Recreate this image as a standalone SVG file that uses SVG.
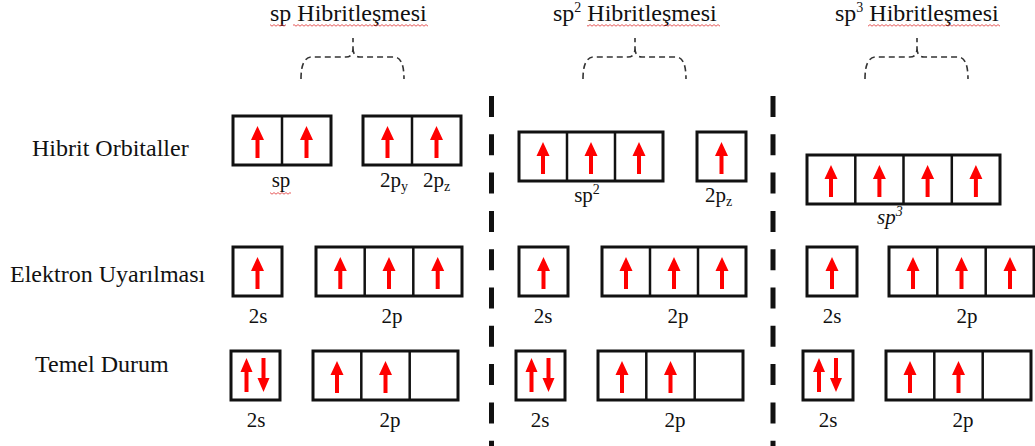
<svg xmlns="http://www.w3.org/2000/svg" xmlns:xlink="http://www.w3.org/1999/xlink" width="1035" height="446" viewBox="0 0 1035 446">
  <style>
    .t { font-family: "Liberation Serif", "Times New Roman", serif; fill: #111; }
    .title { font-size: 24px; }
    .row { font-size: 24px; }
    .lbl { font-size: 21px; }
    .mid { text-anchor: middle; }
    .sub { font-size: 14px; }
    .box { fill: #fff; stroke: #111; stroke-width: 3; }
    .cell { stroke: #111; stroke-width: 2.5; }
    .e { fill: #ff0000; }
    .brace { fill: none; stroke: #333; stroke-width: 1.6; stroke-dasharray: 6 4; }
    .sep { stroke: #111; stroke-width: 5; stroke-dasharray: 21 17.3; }
    .squiggle { fill: url(#wave); }
  </style>
  <defs>
    <!-- single electron, spin up (centered in a 49px cell) -->
    <path id="up" d="M0,-15 L6.5,-1 L2,-1 L2,17 L-2,17 L-2,-1 L-6.5,-1 Z"/>
    <!-- paired electrons -->
    <path id="up2" d="M0,-18 L6,-4 L2,-4 L2,16 L-2,16 L-2,-4 L-6,-4 Z"/>
    <path id="dn2" d="M0,16 L6,2 L2,2 L2,-18 L-2,-18 L-2,2 L-6,2 Z"/>
    <!-- dashed curly brace, 104 wide -->
    <path id="br" d="M0,79 Q0,57 11,57 L45,57 Q52,57 52,48 L52,38 M52,48 Q52,57 59,57 L93,57 Q103,57 103,79"/>
    <pattern id="wave" width="4" height="3" patternUnits="userSpaceOnUse">
      <path d="M0,2.2 L2,0.6 L4,2.2" fill="none" stroke="#e03030" stroke-width="0.8"/>
    </pattern>
  </defs>

  <!-- column separators -->
  <g id="separators">
    <line class="sep" x1="491.5" y1="96" x2="491.5" y2="446"/>
    <line class="sep" x1="773" y1="96" x2="773" y2="446"/>
  </g>

  <!-- row captions -->
  <g id="row-labels">
    <text class="t row" x="32" y="156">Hibrit Orbitaller</text>
    <text class="t row" x="10" y="282">Elektron Uyarılması</text>
    <text class="t row" x="35" y="372">Temel Durum</text>
  </g>

  <!-- headings with braces -->
  <g id="sp-heading">
    <text class="t title" x="270" y="21">sp Hibritleşmesi</text>
    <rect class="squiggle" x="270" y="24" width="16" height="3"/>
    <rect class="squiggle" x="293" y="24" width="135" height="3"/>
    <use href="#br" class="brace" transform="translate(301,0)"/>
  </g>
  <g id="sp2-heading">
    <text class="t title" x="553" y="21">sp<tspan class="sub" dy="-9">2</tspan><tspan dy="9"> Hibritleşmesi</tspan></text>
    <rect class="squiggle" x="587" y="24" width="133" height="3"/>
    <use href="#br" class="brace" transform="translate(583,0)"/>
  </g>
  <g id="sp3-heading">
    <text class="t title" x="835" y="21">sp<tspan class="sub" dy="-9">3</tspan><tspan dy="9"> Hibritleşmesi</tspan></text>
    <rect class="squiggle" x="868" y="24" width="132" height="3"/>
    <use href="#br" class="brace" transform="translate(865,0)"/>
  </g>

  <!-- ===== sp column ===== -->
  <g id="sp-hybrid">
    <rect class="box" x="233" y="116" width="98" height="49"/>
    <line class="cell" x1="282" y1="116" x2="282" y2="165"/>
    <use href="#up" class="e" x="257.5" y="141"/>
    <use href="#up" class="e" x="306.5" y="141"/>
    <text class="t lbl mid" x="281" y="187">sp</text>
    <rect class="squiggle" x="270" y="192" width="21" height="3"/>
  </g>
  <g id="sp-p">
    <rect class="box" x="363" y="116" width="98" height="49"/>
    <line class="cell" x1="412" y1="116" x2="412" y2="165"/>
    <use href="#up" class="e" x="387.5" y="141"/>
    <use href="#up" class="e" x="436.5" y="141"/>
    <text class="t lbl" x="380" y="187">2p<tspan class="sub" dy="4">y</tspan></text>
    <text class="t lbl" x="423" y="187">2p<tspan class="sub" dy="4">z</tspan></text>
  </g>
  <g id="sp-excited-2s">
    <rect class="box" x="233" y="247" width="49" height="49"/>
    <use href="#up" class="e" x="257.5" y="272"/>
    <text class="t lbl mid" x="258" y="323">2s</text>
  </g>
  <g id="sp-excited-2p">
    <rect class="box" x="316" y="247" width="146" height="49"/>
    <line class="cell" x1="364.7" y1="247" x2="364.7" y2="296"/>
    <line class="cell" x1="413.3" y1="247" x2="413.3" y2="296"/>
    <use href="#up" class="e" x="340.3" y="272"/>
    <use href="#up" class="e" x="389" y="272"/>
    <use href="#up" class="e" x="437.7" y="272"/>
    <text class="t lbl mid" x="392" y="323">2p</text>
  </g>
  <g id="sp-ground-2s">
    <rect class="box" x="231" y="351" width="49" height="49"/>
    <use href="#up2" class="e" x="246.5" y="376"/>
    <use href="#dn2" class="e" x="263.5" y="376"/>
    <text class="t lbl mid" x="256" y="427">2s</text>
  </g>
  <g id="sp-ground-2p">
    <rect class="box" x="313" y="351" width="145" height="49"/>
    <line class="cell" x1="361.3" y1="351" x2="361.3" y2="400"/>
    <line class="cell" x1="409.7" y1="351" x2="409.7" y2="400"/>
    <use href="#up" class="e" x="337" y="376"/>
    <use href="#up" class="e" x="385.5" y="376"/>
    <text class="t lbl mid" x="390" y="427">2p</text>
  </g>

  <!-- ===== sp2 column ===== -->
  <g id="sp2-hybrid">
    <rect class="box" x="519" y="132" width="144" height="49"/>
    <line class="cell" x1="567" y1="132" x2="567" y2="181"/>
    <line class="cell" x1="615" y1="132" x2="615" y2="181"/>
    <use href="#up" class="e" x="543" y="157"/>
    <use href="#up" class="e" x="591" y="157"/>
    <use href="#up" class="e" x="639" y="157"/>
    <text class="t lbl mid" x="587" y="202">sp<tspan class="sub" dy="-8">2</tspan></text>
  </g>
  <g id="sp2-p">
    <rect class="box" x="697" y="132" width="49" height="49"/>
    <use href="#up" class="e" x="721.5" y="157"/>
    <text class="t lbl" x="705" y="202">2p<tspan class="sub" dy="4">z</tspan></text>
  </g>
  <g id="sp2-excited-2s">
    <rect class="box" x="519" y="247" width="49" height="49"/>
    <use href="#up" class="e" x="543.5" y="272"/>
    <text class="t lbl mid" x="543" y="323">2s</text>
  </g>
  <g id="sp2-excited-2p">
    <rect class="box" x="602" y="247" width="144" height="49"/>
    <line class="cell" x1="650" y1="247" x2="650" y2="296"/>
    <line class="cell" x1="698" y1="247" x2="698" y2="296"/>
    <use href="#up" class="e" x="626" y="272"/>
    <use href="#up" class="e" x="674" y="272"/>
    <use href="#up" class="e" x="722" y="272"/>
    <text class="t lbl mid" x="678" y="323">2p</text>
  </g>
  <g id="sp2-ground-2s">
    <rect class="box" x="516" y="351" width="49" height="49"/>
    <use href="#up2" class="e" x="531.5" y="376"/>
    <use href="#dn2" class="e" x="548.5" y="376"/>
    <text class="t lbl mid" x="540" y="427">2s</text>
  </g>
  <g id="sp2-ground-2p">
    <rect class="box" x="598" y="351" width="145" height="49"/>
    <line class="cell" x1="646.3" y1="351" x2="646.3" y2="400"/>
    <line class="cell" x1="694.7" y1="351" x2="694.7" y2="400"/>
    <use href="#up" class="e" x="622" y="376"/>
    <use href="#up" class="e" x="670.5" y="376"/>
    <text class="t lbl mid" x="675" y="427">2p</text>
  </g>

  <!-- ===== sp3 column ===== -->
  <g id="sp3-hybrid">
    <rect class="box" x="807" y="155" width="193" height="49"/>
    <line class="cell" x1="855.3" y1="155" x2="855.3" y2="204"/>
    <line class="cell" x1="903.5" y1="155" x2="903.5" y2="204"/>
    <line class="cell" x1="951.8" y1="155" x2="951.8" y2="204"/>
    <use href="#up" class="e" x="831" y="180"/>
    <use href="#up" class="e" x="879.4" y="180"/>
    <use href="#up" class="e" x="927.6" y="180"/>
    <use href="#up" class="e" x="975.9" y="180"/>
    <text class="t lbl" x="877" y="224" font-style="italic">sp<tspan class="sub" dy="-8">3</tspan></text>
  </g>
  <g id="sp3-excited-2s">
    <rect class="box" x="807" y="247" width="50" height="49"/>
    <use href="#up" class="e" x="832" y="272"/>
    <text class="t lbl mid" x="832" y="323">2s</text>
  </g>
  <g id="sp3-excited-2p">
    <rect class="box" x="889" y="247" width="145" height="49"/>
    <line class="cell" x1="937.3" y1="247" x2="937.3" y2="296"/>
    <line class="cell" x1="985.7" y1="247" x2="985.7" y2="296"/>
    <use href="#up" class="e" x="913" y="272"/>
    <use href="#up" class="e" x="961.5" y="272"/>
    <use href="#up" class="e" x="1010" y="272"/>
    <text class="t lbl mid" x="967" y="323">2p</text>
  </g>
  <g id="sp3-ground-2s">
    <rect class="box" x="803" y="351" width="50" height="49"/>
    <use href="#up2" class="e" x="819" y="376"/>
    <use href="#dn2" class="e" x="836" y="376"/>
    <text class="t lbl mid" x="828" y="427">2s</text>
  </g>
  <g id="sp3-ground-2p">
    <rect class="box" x="886" y="351" width="145" height="49"/>
    <line class="cell" x1="934.3" y1="351" x2="934.3" y2="400"/>
    <line class="cell" x1="982.7" y1="351" x2="982.7" y2="400"/>
    <use href="#up" class="e" x="910" y="376"/>
    <use href="#up" class="e" x="958.5" y="376"/>
    <text class="t lbl mid" x="963" y="427">2p</text>
  </g>
</svg>
